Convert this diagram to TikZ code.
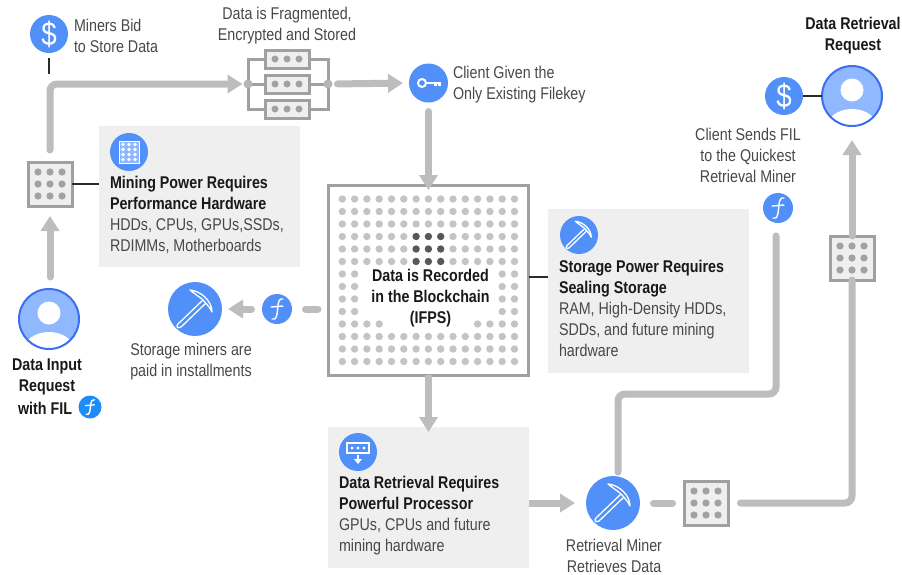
\documentclass[tikz,border=0pt]{standalone}
\usepackage{fontspec}
\setmainfont[FakeStretch=0.84]{Liberation Sans}
\usetikzlibrary{arrows.meta,calc}
\definecolor{blueA}{HTML}{5090F8}
\definecolor{blueL}{HTML}{90B8FF}
\definecolor{blueB}{HTML}{3C6FF0}
\definecolor{coinB}{HTML}{1E8CF8}
\definecolor{conC}{HTML}{BDBDBD}
\definecolor{frameC}{HTML}{A0A0A0}
\definecolor{panelC}{HTML}{EFEFEF}
\definecolor{dotC}{HTML}{A2A2A2}
\definecolor{gridC}{HTML}{C4C4C4}
\definecolor{darkC}{HTML}{585858}
\definecolor{txtC}{HTML}{484848}
\definecolor{lineC}{HTML}{2A2A2A}
\tikzset{
  x=1pt,y=-1pt,
  every node/.style={inner sep=0pt,outer sep=0pt},
  lab/.style={font=\fontsize{17}{21}\selectfont,text=txtC},
  blab/.style={font=\fontsize{17}{21}\selectfont\bfseries,text=black!90},
  panel/.style={fill=panelC,anchor=north west},
  conn/.style={draw=conC,line width=7pt,line cap=round},
  arr/.style={conn,-{Triangle[length=15pt,width=18pt]}},
  thin line/.style={draw=lineC,line width=1.6pt},
  disc/.style={circle,fill=blueA,minimum size=#1},
  coin/.style={circle,fill=blueA,minimum size=30pt},
  person/.style={circle,draw=blueB,line width=2pt,fill=blueL,minimum size=60pt,
    path picture={
      \fill[white] ([yshift=6pt]path picture bounding box.center) circle (11.5pt);
      \fill[white] ([yshift=-31pt]path picture bounding box.center) ellipse (25pt and 18pt);
    }},
  chip/.style={rectangle,draw=frameC,line width=3pt,fill=panelC,minimum size=44pt,
    path picture={
      \foreach \i in {-12,0,12}\foreach \j in {-12,0,12}
        \fill[dotC] ([xshift=\i pt,yshift=\j pt]path picture bounding box.center) circle (3.6pt);
    }},
  server/.style={rectangle,draw=frameC,line width=3pt,fill=panelC,minimum width=44pt,minimum height=18pt,
    path picture={
      \foreach \i in {-12,0,12}
        \fill[dotC] ([xshift=\i pt]path picture bounding box.center) circle (3.5pt);
    }},
  pickaxe/.pic={
    \draw[white,line width=1.3pt,line join=round,fill=blueA]
      (-17,15) -- (9,-10) -- (12,-7) -- (-14,18) .. controls (-18,20) and (-19,17) .. (-17,15) -- cycle;
    \draw[white,line width=1.3pt,line join=round,fill=blueA]
      (-5,-19) .. controls (6,-18) and (17,-8) .. (17,3)
      .. controls (15,-2) and (8,-9) .. (7,-10)
      .. controls (3,-13) and (0,-15) .. (-5,-19) -- cycle;
  },
  filsym/.pic={
    \draw[white,line width=1.4pt,line cap=round]
      (6,-10) .. controls (3,-11) and (1.5,-8) .. (1,-4)
      .. controls (0.5,0) and (0.5,4) .. (-0.5,7)
      .. controls (-1.5,10) and (-3,11) .. (-5,10);
    \draw[white,line width=1.4pt,line cap=round] (-6,-2) -- (6,-3);
  },
  gridsym/.pic={
    \draw[white,line width=1pt,fill=blueL] (-10,-11) rectangle (10,11);
    \foreach \i in {-6,0,6}\foreach \j in {-7.5,-2.5,2.5,7.5}
      \fill[white] (\i,\j) circle (1.8pt);
  },
  drivesym/.pic={
    \draw[white,line width=1.2pt] (-11,-9) rectangle (11,1);
    \foreach \i in {-6,0,6} \fill[white] (\i,-4) circle (1.7pt);
    \draw[white,line width=1.8pt] (0,3) -- (0,8);
    \fill[white] (-4,7) -- (4,7) -- (0,12) -- cycle;
  },
  keysym/.pic={
    \draw[white,line width=2pt] (-6.5,0) circle (4pt);
    \draw[white,line width=2.2pt] (-2.5,0) -- (12,0) (7,0) -- (7,3) (11,0) -- (11,3);
  },
}
\newcommand{\dollarsign}{\textcolor{white}{\fontsize{33}{33}\selectfont\$}}
\begin{document}
\begin{tikzpicture}
\useasboundingbox (0,0) rectangle (902,574);
% panels
\node[panel,minimum width=201pt,minimum height=141pt] (panelA) at (99,126) {};
\node[panel,minimum width=201pt,minimum height=164pt] (panelB) at (548,209) {};
\node[panel,minimum width=201pt,minimum height=141pt] (panelC) at (328,427) {};
% chain
\node[rectangle,draw=frameC,line width=3pt,fill=white,minimum width=200pt,minimum height=190pt] (chain) at (428.5,280) {};
\foreach \r in {0,...,13}{\foreach \c in {0,...,14}{
  \pgfmathtruncatemacro{\hole}{(\r>5 && \r<10 && \c>1 && \c<13) || (\r==10 && \c>3 && \c<11)}
  \pgfmathtruncatemacro{\dk}{\r>2 && \r<6 && \c>5 && \c<9}
  \ifnum\hole=0
    \ifnum\dk=1 \fill[darkC] (342.3+\c*12.3,199+\r*12.5) circle (3.7pt);
    \else \fill[gridC] (342.3+\c*12.3,199+\r*12.5) circle (3.7pt); \fi
  \fi
}}
% icons
\node[disc=38pt] (bid) at (49,34) {\dollarsign};
\node[chip] (chipA) at (50,184) {};
\node[disc=38pt] (iconA) at (129,152) {};
\pic at (iconA) {gridsym};
\node[person] (reqA) at (49,319) {};
\node[disc=54pt] (pickA) at (195,309) {};
\pic at (pickA) {pickaxe};
\node[coin] (coinA) at (277,309) {};
\pic at (coinA) {filsym};
\node[circle,fill=coinB,minimum size=23pt] (coinC) at (90,407) {};
\pic[scale=.72] at (coinC) {filsym};
\node[server] (srvT) at (287,59) {};
\node[server] (srvM) at (287,84) {};
\node[server] (srvB) at (287,109) {};
\coordinate (srvL) at (248,84);
\coordinate (srvR) at (328,84);
\node[disc=39pt] (key) at (428.5,83) {};
\pic at (key) {keysym};
\node[disc=38pt] (iconB) at (579,235) {};
\pic[scale=.72] at (iconB) {pickaxe};
\node[disc=38pt] (iconC) at (358,452) {};
\pic at (iconC) {drivesym};
\node[disc=54pt] (pickB) at (613,503) {};
\pic at (pickB) {pickaxe};
\node[chip] (chipB) at (706,503) {};
\node[chip] (chipC) at (852,258) {};
\node[coin] (coinB) at (778,208) {};
\pic at (coinB) {filsym};
\node[disc=38pt] (pay) at (784,96) {\dollarsign};
\node[person] (reqB) at (852,96) {};
% server wiring
\draw[draw=frameC,line width=3pt] (srvT.west) -| (srvL) |- (srvB.west);
\draw[draw=frameC,line width=3pt] (srvT.east) -| (srvR) |- (srvB.east);
\draw[draw=frameC,line width=3pt] (srvL) -- (srvM.west);
\draw[draw=frameC,line width=3pt] (srvM.east) -- (srvR);
\node[circle,fill=dotC!80,minimum size=9pt] (jointL) at (srvL) {};
\node[circle,fill=dotC!80,minimum size=9pt] (jointR) at (srvR) {};
% coordinates for free ends
\coordinate (retrStart) at (618,472);
\coordinate (retrBend) at (776,394);
\coordinate (retrEnd) at (776,236);
\coordinate (bidEnd) at (49,74);
% connectors
\draw[arr,shorten <=12pt,shorten >=10pt] (reqA.north -| chipA) -- (chipA.south);
\draw[arr,rounded corners=7pt,shorten <=12pt,shorten >=1pt] (chipA.north) |- (jointL.west);
\draw[arr,shorten <=5pt,shorten >=6pt] (jointR.east) -- (key.west);
\draw[arr,shorten <=9pt,shorten >=-5pt] (key.south) -- (chain.north);
\draw[arr,line cap=butt,shorten >=-5pt] (chain.south) -- (panelC.north -| chain.south);
\draw[conn,shorten <=10.5pt,shorten >=13.5pt] (chain.west |- coinA) -- (coinA.east);
\draw[arr,shorten <=10.5pt,shorten >=6pt] (coinA.west) -- (pickA.east);
\draw[arr,line cap=butt,shorten >=11pt] (panelC.east |- pickB) -- (pickB.west);
\draw[conn,shorten <=13.5pt,shorten >=11.5pt] (pickB.east) -- (chipB.west);
\draw[conn,rounded corners=7pt,shorten <=12.5pt] (chipB.east) -| (chipC.south);
\draw[arr,shorten >=14pt] (chipC.north) -- (reqB.south);
\draw[conn,rounded corners=7pt] (retrStart) |- (retrBend) -- (retrEnd);
% thin lines
\draw[thin line] (bid.south) ++(0,5) -- (bidEnd);
\draw[thin line] (chipA.east) -- (panelA.west |- chipA);
\draw[thin line] (chain.east |- 0,277) -- (panelB.west |- 0,277);
\draw[thin line] (pay.east) -- (reqB.west);
% texts
\node[lab,anchor=west,align=left] (tBid) at (74,35.5) {Miners Bid\\to Store Data};
\node[lab,align=center] (tFrag) at (287,25.5) {Data is Fragmented,\\Encrypted and Stored};
\node[lab,anchor=west,align=left] (tKey) at (453,84.5) {Client Given the\\Only Existing Filekey};
\node[lab,anchor=west,align=left] (tA) at (110,214.5) {\textbf{\textcolor{black!90}{Mining Power Requires}}\\\textbf{\textcolor{black!90}{Performance Hardware}}\\HDDs, CPUs, GPUs,SSDs,\\RDIMMs, Motherboards};
\node[blab,align=center] (tReqA) at (47,376.5) {Data Input\\Request};
\node[blab,anchor=east] (tFil) at (72,408) {with FIL};
\node[lab,align=center] (tStor) at (191,361.5) {Storage miners are\\paid in installments};
\node[blab,align=center] (tChain) at (430.5,298) {Data is Recorded\\in the Blockchain\\(IFPS)};
\node[lab,anchor=west,align=left] (tB) at (559,308) {\textbf{\textcolor{black!90}{Storage Power Requires}}\\\textbf{\textcolor{black!90}{Sealing Storage}}\\RAM, High-Density HDDs,\\SDDs, and future mining\\hardware};
\node[lab,anchor=west,align=left] (tC) at (339,515.5) {\textbf{\textcolor{black!90}{Data Retrieval Requires}}\\\textbf{\textcolor{black!90}{Powerful Processor}}\\GPUs, CPUs and future\\mining hardware};
\node[lab,align=center] (tRetr) at (614,555.5) {Retrieval Miner\\Retrieves Data};
\node[lab,align=center] (tSend) at (748,155.5) {Client Sends FIL\\to the Quickest\\Retrieval Miner};
\node[blab,align=center] (tReqB) at (853,35.5) {Data Retrieval\\Request};
\end{tikzpicture}
\end{document}
